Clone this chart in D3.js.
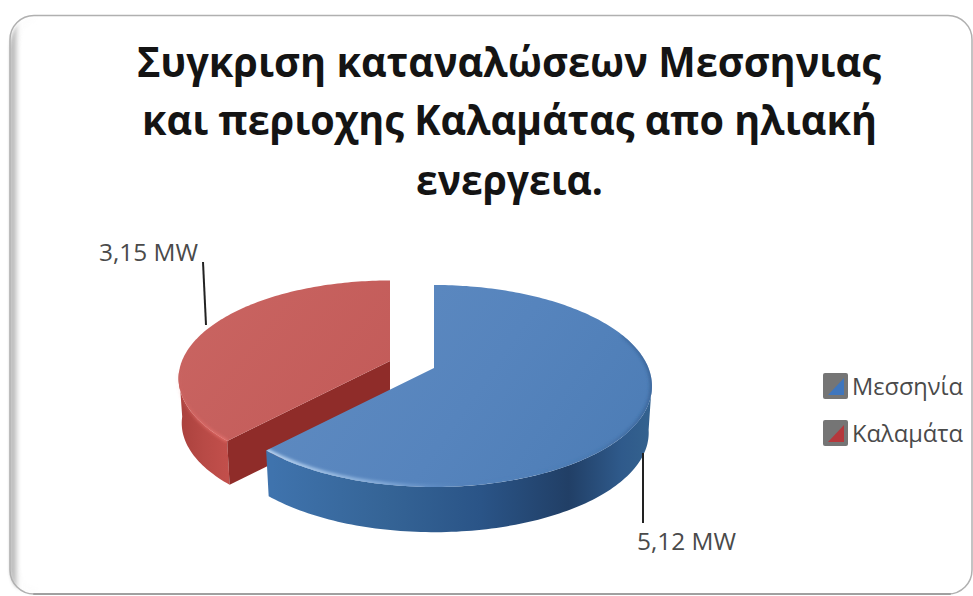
<!DOCTYPE html>
<html>
<head>
<meta charset="utf-8">
<script src="https://cdn.jsdelivr.net/npm/d3@7/dist/d3.min.js"></script>
<style>
html,body{margin:0;padding:0;background:#fff;}
svg{display:block;}
text{font-family:"Open Sans","Noto Sans",sans-serif;}
</style>
</head>
<body>
<svg id="chart" width="973" height="596"></svg>
<script>
// Chart content
const titleLines = ["Συγκριση καταναλώσεων Μεσσηνιας", "και περιοχης Καλαμάτας απο ηλιακή", "ενεργεια."];
const categories = ["Μεσσηνία", "Καλαμάτα"];
const values = [5.12, 3.15];
const valueLabels = ["5,12 MW", "3,15 MW"];

const svg = d3.select("#chart");
const defs = svg.append("defs");

function gradient(id, x1, y1, x2, y2, stops) {
  const g = defs.append("linearGradient").attr("id", id)
    .attr("gradientUnits", "userSpaceOnUse")
    .attr("x1", x1).attr("y1", y1).attr("x2", x2).attr("y2", y2);
  stops.forEach(s => g.append("stop").attr("offset", s[0]).attr("stop-color", s[1]).attr("stop-opacity", s[2] === undefined ? 1 : s[2]));
}
defs.append("filter").attr("id", "soft").attr("filterUnits", "userSpaceOnUse")
  .attr("x", 0).attr("y", 0).attr("width", 973).attr("height", 596)
  .append("feGaussianBlur").attr("stdDeviation", 1.5);

// Card frame: a shaded band on the left and a fine outline that sits heavier at the foot
gradient("frameLeft", 10, 0, 21, 0, [[0, "#a9a9a9"], [0.45, "#c4c4c4"], [1, "#f6f6f6", 0.2]]);
svg.append("path")
  .attr("d", "M20,48 L20,565 Q20,586 42,588 L30,595 Q11,592 10,570 L10,48 Q11,17 38,15 L36,22 Q21,26 20,48 Z")
  .attr("fill", "url(#frameLeft)").attr("filter", "url(#soft)").attr("opacity", 0.9);
svg.append("rect").attr("x", 10).attr("y", 15.5).attr("width", 962).attr("height", 578.5).attr("rx", 24)
  .attr("fill", "none").attr("stroke", "#b0b0b0").attr("stroke-width", 1.5);
svg.append("line").attr("x1", 34).attr("y1", 594).attr("x2", 950).attr("y2", 594)
  .attr("stroke", "#a0a0a0").attr("stroke-width", 2).attr("stroke-linecap", "round");

// Title
const titleRows = [
  { y: 77, x0: 137, x1: 881 },
  { y: 135, x0: 142, x1: 877 },
  { y: 195, x0: 416, x1: 603 }
];
svg.append("g").selectAll("text").data(titleLines).join("text")
  .attr("x", (d, i) => titleRows[i].x0).attr("y", (d, i) => titleRows[i].y)
  .attr("textLength", (d, i) => titleRows[i].x1 - titleRows[i].x0)
  .attr("lengthAdjust", "spacingAndGlyphs")
  .attr("font-size", 41).attr("font-weight", 700).attr("fill", "#141414")
  .text(d => d);

// Pie angles come straight from the values
const pie = d3.pie().sort(null).value(d => d)(values);

// Perspective tilt of the disc: the near edge is drawn larger than the far one
const persp = { k: 0.178, rx: 214.5, ry: 97.8 };
function project(theta, r, cx, cy, scale) {
  const u = Math.sin(theta) * r, v = -Math.cos(theta) * r;
  const w = 1 - persp.k * v;
  return [cx + scale * persp.rx * u / w, cy + scale * persp.ry * v / w];
}
function samples(a0, a1) {
  const n = Math.max(2, Math.ceil(Math.abs(a1 - a0) / 0.02));
  return d3.range(n + 1).map(i => a0 + (a1 - a0) * i / n);
}
const line = d3.line();

const slices = [
  { cx: 434, cy: 368, scale: 1, depth: 47, depthScale: 0.985, sideFrom: 1.72 },
  { cx: 390, cy: 361, scale: 0.97, depth: 45, depthScale: 0.985, sideFrom: 4.6 }
];
function topPts(i, a0, a1) {
  const s = slices[i];
  return samples(a0, a1).map(t => project(t, 1, s.cx, s.cy, s.scale));
}
function bottomPts(i, a0, a1) {
  const s = slices[i];
  return samples(a0, a1).map(t => project(t, 1, s.cx, s.cy + s.depth, s.scale * s.depthScale));
}

gradient("blueTop", 300, 290, 600, 500, [[0, "#5f8bc1"], [0.55, "#5684bd"], [1, "#4d7db6"]]);
gradient("blueSide", 272, 0, 652, 0, [[0, "#3f73ad"], [0.3, "#356496"], [0.55, "#2a5487"], [0.78, "#213f66"], [0.92, "#2f5a8b"], [1, "#34628f"]]);
gradient("blueRim", 272, 0, 652, 0, [[0, "#bcd6f2", 0.95], [0.3, "#93b8e2", 0.7], [0.5, "#6b96cc", 0], [0.85, "#2d5688", 0.15], [1, "#2d5688", 0.55]]);
gradient("redTop", 200, 290, 390, 440, [[0, "#c96461"], [1, "#c25a58"]]);
gradient("redSide", 176, 0, 232, 0, [[0, "#a8403c"], [0.5, "#b84a46"], [1, "#c4504c"]]);
gradient("redRim", 176, 0, 232, 0, [[0, "#e36d69", 0], [0.35, "#e36d69", 0.7], [1, "#ef7a75", 0.95]]);

const chart = svg.append("g");

// Kalamata slice first, so the larger slice overlaps its cut face
const red = pie[1], redS = slices[1];
const redEnd = project(red.startAngle, 1, redS.cx, redS.cy, redS.scale);
const redEndB = project(red.startAngle, 1, redS.cx, redS.cy + redS.depth, redS.scale * redS.depthScale);
chart.append("path").attr("fill", "url(#redSide)")
  .attr("d", line(topPts(1, red.startAngle, redS.sideFrom).concat(bottomPts(1, redS.sideFrom, red.startAngle))) + "Z");
chart.append("path").attr("fill", "#8f2c29")
  .attr("d", line([[redS.cx, redS.cy], redEnd, redEndB, [redS.cx, redS.cy + redS.depth]]) + "Z");
chart.append("path").attr("fill", "url(#redTop)")
  .attr("d", line([[redS.cx, redS.cy]].concat(topPts(1, red.startAngle, red.endAngle))) + "Z");
chart.append("path").attr("fill", "none").attr("stroke", "url(#redRim)").attr("stroke-width", 2.4).attr("filter", "url(#soft)")
  .attr("d", line(topPts(1, red.startAngle, redS.sideFrom)));

// Larger slice
const blue = pie[0], blueS = slices[0];
chart.append("path").attr("fill", "url(#blueSide)")
  .attr("d", line(topPts(0, blueS.sideFrom, blue.endAngle).concat(bottomPts(0, blue.endAngle, blueS.sideFrom))) + "Z");
const clip = defs.append("clipPath").attr("id", "blueClip");
const bluePath = line([[blueS.cx, blueS.cy]].concat(topPts(0, blue.startAngle, blue.endAngle))) + "Z";
clip.append("path").attr("d", bluePath);
chart.append("path").attr("fill", "url(#blueTop)").attr("d", bluePath);
chart.append("g").attr("clip-path", "url(#blueClip)").append("path")
  .attr("fill", "none").attr("stroke", "url(#blueRim)").attr("stroke-width", 5).attr("filter", "url(#soft)")
  .attr("d", line(topPts(0, 1.2, blue.endAngle)));

// Value labels with leader lines
const leaders = [
  { text: valueLabels[0], x: 637, y: 550, from: [643, 453], to: [643, 523] },
  { text: valueLabels[1], x: 99, y: 261, from: [203, 262], to: [206, 325] }
];
leaders.forEach(l => {
  svg.append("line").attr("x1", l.from[0]).attr("y1", l.from[1]).attr("x2", l.to[0]).attr("y2", l.to[1])
    .attr("stroke", "#222").attr("stroke-width", 2);
  svg.append("text").attr("x", l.x).attr("y", l.y).attr("font-size", 24).attr("fill", "#4a4a4a")
    .attr("textLength", 99).attr("lengthAdjust", "spacingAndGlyphs").text(l.text);
});

// Legend
const swatchColors = ["#3f76bd", "#b5383c"];
const legend = svg.append("g").selectAll("g").data(categories).join("g")
  .attr("transform", (d, i) => `translate(823,${373 + i * 47})`);
legend.append("rect").attr("width", 25).attr("height", 26).attr("rx", 2).attr("fill", "#757575");
legend.append("path").attr("d", "M5,22 L21,5 L21,22 Z").attr("fill", (d, i) => swatchColors[i]);
legend.append("text").attr("x", 29).attr("y", 22).attr("font-size", 24).attr("fill", "#4a4a4a")
  .attr("textLength", 111).attr("lengthAdjust", "spacingAndGlyphs").text(d => d);
</script>
</body>
</html>
